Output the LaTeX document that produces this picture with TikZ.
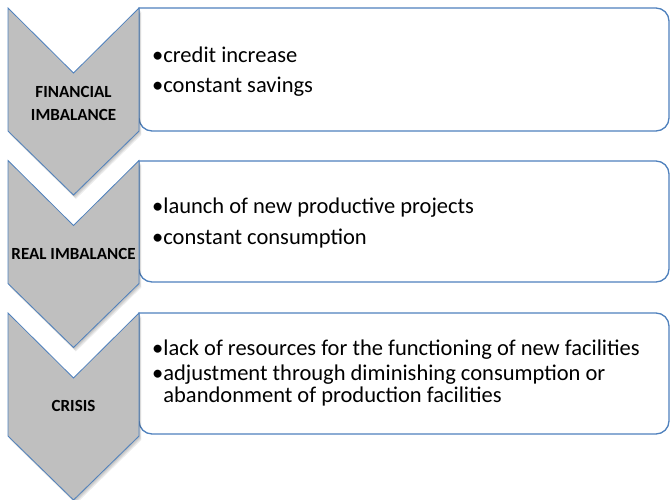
\documentclass[tikz,border=0pt]{standalone}
\usepackage{fontspec}
\setmainfont{Carlito}
\definecolor{chevgray}{RGB}{191,191,191}
\definecolor{officeblue}{RGB}{79,129,189}

\tikzset{
  chevron/.style={fill=chevgray, draw=officeblue, line width=0.8pt, line join=miter},
  chevshadow/.style={fill=black, opacity=0.07},
  textbox/.style={draw=officeblue, line width=1.3pt, fill=white},
  chevlabel/.style={font=\fontsize{17}{23}\selectfont\bfseries, align=center, inner sep=0pt},
  boxtext/.style={font=\fontsize{22.5}{22}\selectfont, align=left, anchor=west, inner sep=0pt},
}

\begin{document}
\begin{tikzpicture}[x=1pt, y=-1pt]
  \useasboundingbox (0,0) rectangle (670,500);

  % text boxes
  \foreach \t/\b in {8/131, 161/282, 313/434}
    \draw[textbox] (139,\t) [rounded corners=13pt] -- (669,\t) -- (669,\b) -- (139,\b) [sharp corners] -- cycle;

  % chevrons
  \foreach \t in {8, 160.5, 313}{
    \foreach \s in {1,...,4}
      \fill[chevshadow, shift={(0.6*\s,\s)}] (8,\t) -- (73.5,{\t+65}) -- (139,\t)
                   -- (139,{\t+123}) -- (73.5,{\t+187}) -- (8,{\t+123}) -- cycle;
    \draw[chevron] (8,\t) -- (73.5,{\t+65}) -- (139,\t) -- (139,{\t+123})
                   -- (73.5,{\t+187}) -- (8,{\t+123}) -- cycle;}

  %% labels
  \node[chevlabel] (financial) at (73.5,103) {FINANCIAL\\IMBALANCE};
  \node[chevlabel] (real) at (73.5,254) {REAL IMBALANCE};
  \node[chevlabel] (crisis) at (73.5,406) {CRISIS};

  %% bullet texts
  \node[boxtext] (fintext) at (152,72) {•credit increase\\[8pt]•constant savings};
  \node[boxtext] (realtext) at (152,223) {•launch of new productive projects\\[9pt]•constant consumption};
  \node[boxtext] (crisistext) at (152,373) {•lack of resources for the functioning of new facilities\\[3pt]
                                            •adjustment through diminishing consumption or\\
                                            \phantom{•}abandonment of production facilities};
\end{tikzpicture}
\end{document}
